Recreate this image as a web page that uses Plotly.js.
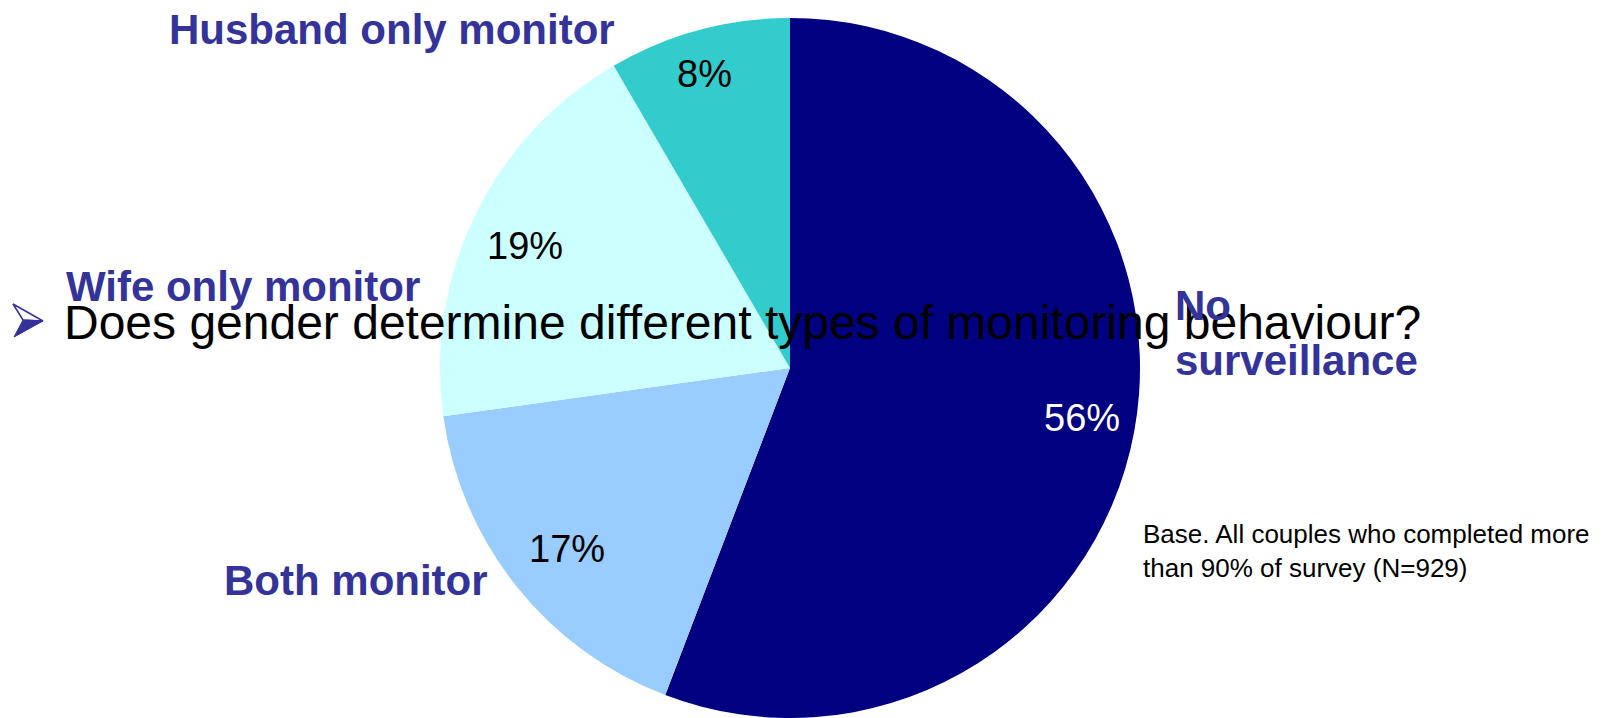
<!DOCTYPE html>
<html>
<head>
<meta charset="utf-8">
<script src="https://cdn.plot.ly/plotly-3.0.1.min.js"></script>
<style>html,body{margin:0;padding:0;background:#fff;}#chart{width:1610px;height:718px;}</style>
</head>
<body>
<div id="chart"></div>
<script>
const labels = ['No surveillance', 'Both monitor', 'Wife only monitor', 'Husband only monitor'];
const displayLabels = ['No<br>surveillance', 'Both monitor', 'Wife only monitor', 'Husband only monitor'];
const values = [55.8, 17.0, 18.8, 8.4];
const sliceColors = ['#000080', '#99CCFF', '#CCFFFF', '#33CCCC'];
const pctTextColors = ['#FFFFFF', '#000000', '#000000', '#000000'];
const question = 'Does gender determine different types of monitoring behaviour?';
const baseNote = 'Base. All couples who completed more<br>than 90% of survey (N=929)';

const W = 1610, H = 718;
const px = x => x / W;
const py = y => 1 - y / H;
const total = values.reduce((a, b) => a + b, 0);

// label positions (pixels) for each slice
const pctPos = [[1082, 418], [567, 549], [525, 246], [704, 74]];
const labelPos = [[1173, 333], [222, 580], [64, 287], [167, 29]];

const font = 'Arial, "Liberation Sans", sans-serif';

const annotations = [];
annotations.push({
  xref: 'paper', yref: 'paper', x: px(62), y: py(322), xanchor: 'left', yanchor: 'middle',
  text: question, showarrow: false, font: {family: font, size: 48, color: '#000000'}
});
values.forEach((v, i) => {
  annotations.push({
    xref: 'paper', yref: 'paper', x: px(pctPos[i][0]), y: py(pctPos[i][1]),
    xanchor: 'center', yanchor: 'middle', text: Math.round(v / total * 100) + '%', showarrow: false,
    font: {family: font, size: 38, color: pctTextColors[i]}
  });
  annotations.push({
    xref: 'paper', yref: 'paper', x: px(labelPos[i][0]), y: py(labelPos[i][1]),
    xanchor: 'left', yanchor: 'middle', align: 'left', text: '<b>' + displayLabels[i] + '</b>', showarrow: false,
    font: {family: font, size: 42, color: '#333399'}
  });
});
annotations.push({
  xref: 'paper', yref: 'paper', x: px(1141), y: py(551), xanchor: 'left', yanchor: 'middle', align: 'left',
  text: baseNote, showarrow: false, font: {family: font, size: 26, color: '#000000'}
});

// bullet arrowhead (decoration)
function pathFrom(pts) {
  return 'M ' + pts.map(p => px(p[0]).toFixed(5) + ',' + py(p[1]).toFixed(5)).join(' L ') + ' Z';
}
const shapes = [
  {type: 'path', xref: 'paper', yref: 'paper', layer: 'above',
   path: pathFrom([[13, 304], [43, 321], [23, 320]]),
   fillcolor: '#FFFFFF', line: {color: '#333399', width: 1.5}},
  {type: 'path', xref: 'paper', yref: 'paper', layer: 'above',
   path: pathFrom([[23, 320], [43, 321], [14, 337]]),
   fillcolor: '#333399', line: {color: '#333399', width: 1}}
];

const trace = {
  type: 'pie',
  labels: labels,
  values: values,
  sort: false,
  direction: 'clockwise',
  rotation: 0,
  textinfo: 'none',
  hoverinfo: 'label+percent',
  marker: {colors: sliceColors, line: {width: 0}},
  domain: {x: [px(440), px(1140)], y: [0, py(18)]},
  showlegend: false
};

Plotly.newPlot('chart', [trace], {
  width: W, height: H,
  margin: {l: 0, r: 0, t: 0, b: 0},
  paper_bgcolor: '#FFFFFF',
  showlegend: false,
  annotations: annotations,
  shapes: shapes
}, {displayModeBar: false, staticPlot: true});
</script>
</body>
</html>
